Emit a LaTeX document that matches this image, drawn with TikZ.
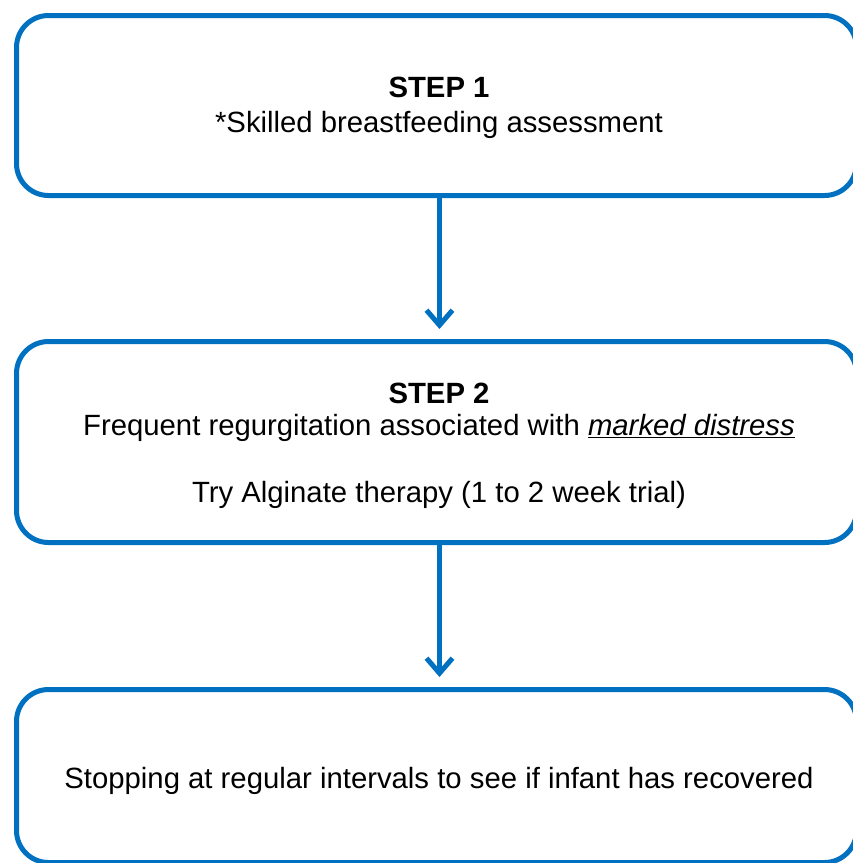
\documentclass[tikz,border=0pt]{standalone}
\usepackage{fontspec}
\setmainfont{Liberation Sans}
\usetikzlibrary{arrows.meta}
\definecolor{boxblue}{HTML}{0070C0}
\begin{document}
\begin{tikzpicture}[x=1pt,y=-1pt,
  flowbox/.style={draw=boxblue, line width=5pt, rounded corners=32pt, anchor=north west, minimum width=840pt},
  txt/.style={font=\fontsize{29.3}{34}\selectfont, inner sep=0pt, anchor=base},
  flowarrow/.style={draw=boxblue, line width=5pt, -{Straight Barb[length=15pt,width=26pt]}}]
\useasboundingbox (0,0) rectangle (853,863);
\node[flowbox, minimum height=180pt] (b1) at (14,13) {};
\node[flowbox, minimum height=201pt] (b2) at (14,339) {};
\node[flowbox, minimum height=173pt] (b3) at (14,687) {};
\draw[flowarrow] ([xshift=3pt]b1.south) -- ([xshift=3pt,yshift=10pt]b2.north);
\draw[flowarrow] ([xshift=3pt]b2.south) -- ([xshift=3pt,yshift=10pt]b3.north);
\node[txt] (s1) at (439,97) {\bfseries STEP 1};
\node[txt] (t1) at (439,132) {*Skilled breastfeeding assessment};
\node[txt] (s2) at (439,403) {\bfseries STEP 2};
\node[txt] (t2) at (439,435) {Frequent regurgitation associated with \underline{\itshape marked distress}};
\node[txt] (t3) at (439,502) {Try Alginate therapy (1 to 2 week trial)};
\node[txt] (t4) at (439,788) {Stopping at regular intervals to see if infant has recovered};
\end{tikzpicture}
\end{document}
